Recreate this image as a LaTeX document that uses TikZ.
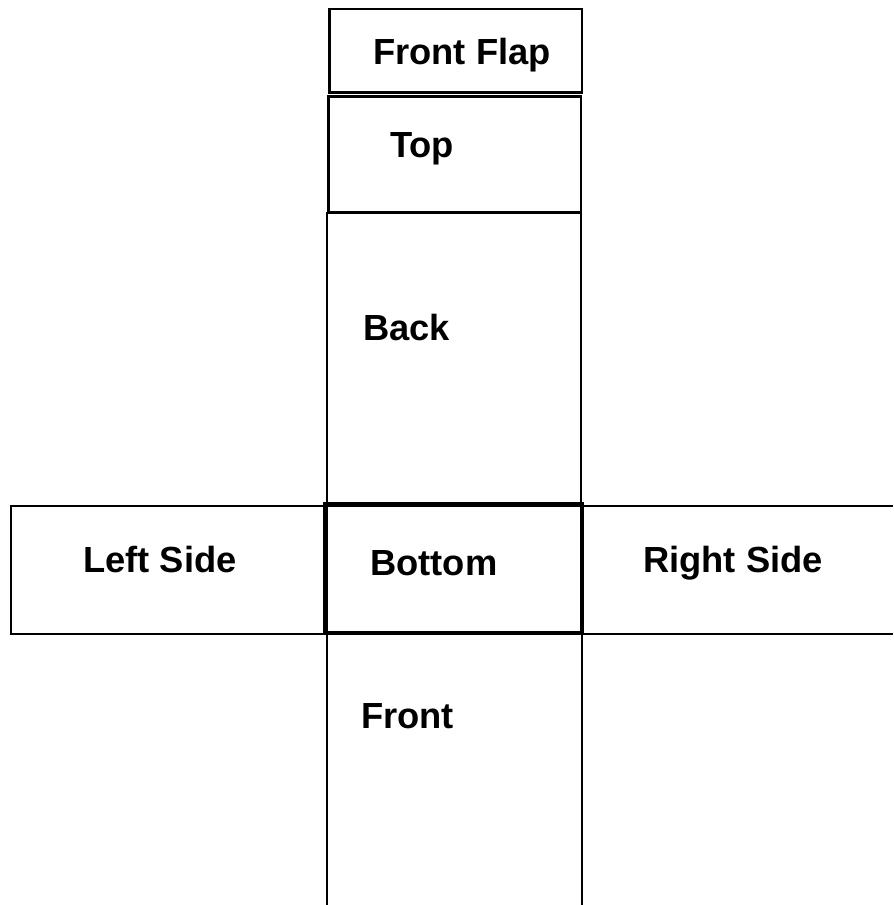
\documentclass[tikz,border=0pt]{standalone}
\usepackage{fontspec}
\setmainfont{Liberation Sans}
\usetikzlibrary{positioning}

\tikzset{
  panel/.style = {line width=2.5pt},
  base panel/.style = {line width=3.6pt},
  lbl/.style = {anchor=base west, inner sep=0pt, font=\fontsize{31}{36}\selectfont\bfseries}
}

\begin{document}
\begin{tikzpicture}[x=0.03cm, y=-0.03cm]
    \useasboundingbox (0,0) rectangle (893,905);

    % panels of the box net
    \draw[panel] (329.5,9) rectangle (582,92.3);
    \draw[panel] (328.5,96.5) rectangle (581,212);
    \draw[panel] (327,213) rectangle (581,504);
    \draw[panel] (11,506) rectangle (326,634);
    \draw[panel] (893,506) -- (582,506) -- (582,634) -- (893,634);
    \draw[panel] (327,905) -- (327,633) (582,633) -- (582,905);
    \draw[base panel] (325.5,504.5) rectangle (582,633);

    \node[lbl] (flap) at (373,65) {Front Flap};
    \node[lbl] (top) at (390,158) {Top};
    \node[lbl] (back) at (363,340) {Back};
    \node[lbl] (left) at (83,572) {Left Side};
    \node[lbl] (bottom) at (370,575) {Bottom};
    \node[lbl] (right) at (643,572) {Right Side};
    \node[lbl] (front) at (361,728) {Front};
\end{tikzpicture}
\end{document}
